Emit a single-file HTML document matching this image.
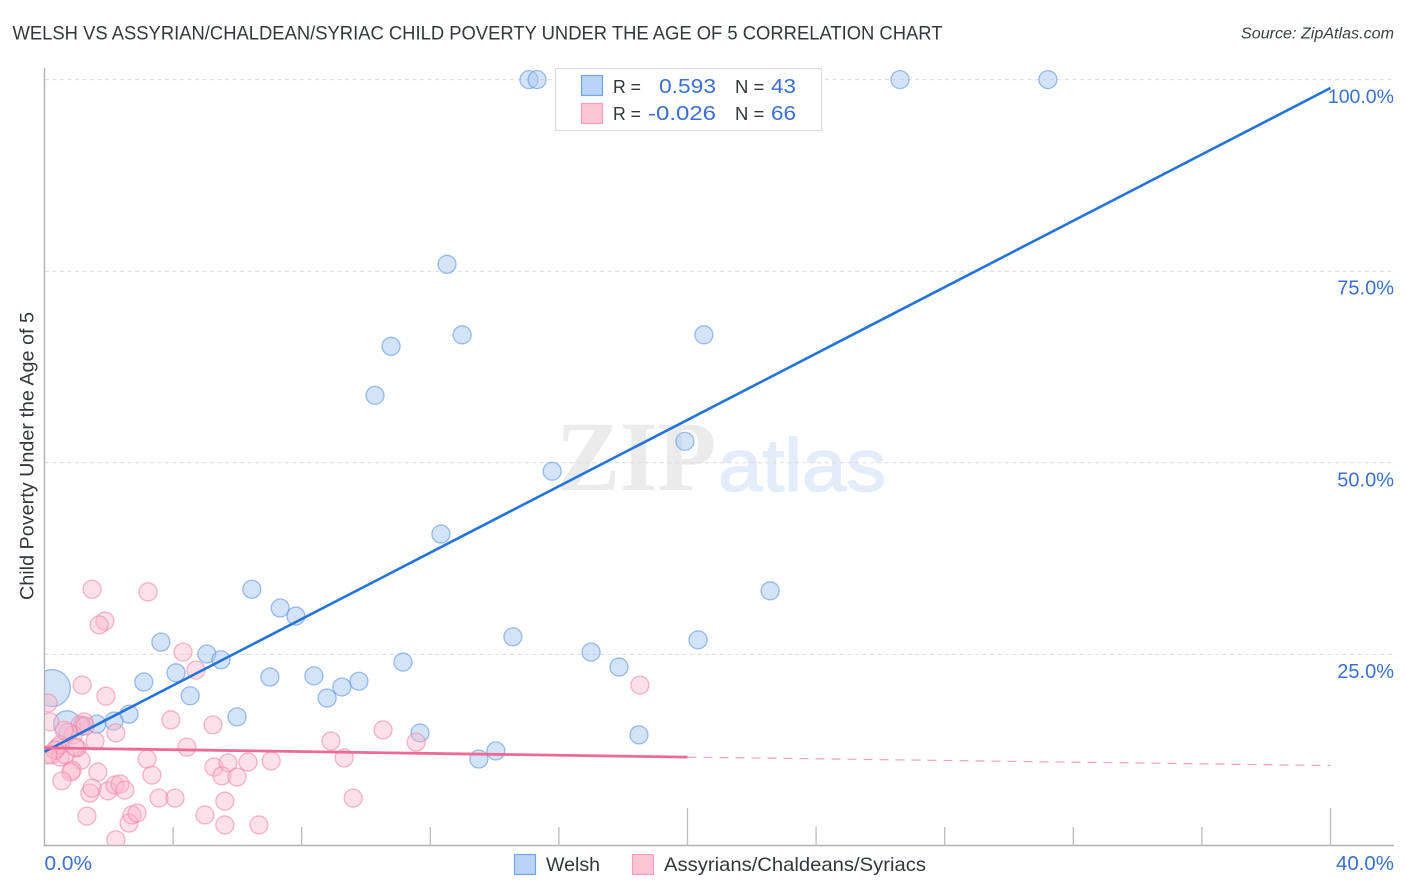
<!DOCTYPE html>
<html lang="en">
<head>
<meta charset="utf-8">
<title>Welsh vs Assyrian/Chaldean/Syriac Child Poverty Correlation Chart</title>
<style>
html,body{margin:0;padding:0;background:#fff;width:1406px;height:892px;overflow:hidden}
svg{display:block}
text{font-family:"Liberation Sans",sans-serif}
</style>
</head>
<body>
<svg id="chart" xmlns="http://www.w3.org/2000/svg" width="1406" height="892" viewBox="0 0 1406 892">
  <defs><clipPath id="plot-clip"><rect x="45" y="60" width="1349" height="785"/></clipPath></defs>
  <text x="12.5" y="39.5" font-size="19.5" fill="#33373d" textLength="930" lengthAdjust="spacingAndGlyphs">WELSH VS ASSYRIAN/CHALDEAN/SYRIAC CHILD POVERTY UNDER THE AGE OF 5 CORRELATION CHART</text>
  <text x="1241" y="38.5" font-size="15.5" font-style="italic" fill="#3a3f46" textLength="153" lengthAdjust="spacingAndGlyphs">Source: ZipAtlas.com</text>
  <text transform="translate(33.5 456) rotate(-90)" font-size="19.5" fill="#33373d" text-anchor="middle" textLength="288" lengthAdjust="spacingAndGlyphs">Child Poverty Under the Age of 5</text>
  <g>
    <text x="556" y="490" font-size="100" font-weight="700" fill="#ebebeb" textLength="160" lengthAdjust="spacingAndGlyphs" style="font-family:'Liberation Serif',serif">ZIP</text>
    <text x="718" y="491" font-size="74" fill="#e3ecf9" stroke="#e3ecf9" stroke-width="1.5" textLength="168" lengthAdjust="spacingAndGlyphs">atlas</text>
  </g>
  <g id="grid"></g>
  <g id="axes"></g>
  <g id="welsh-points" clip-path="url(#plot-clip)"></g>
  <g id="assyrian-points" clip-path="url(#plot-clip)"></g>
  <g id="trends"></g>
  <g id="labels"></g>

  <g>
    <rect x="555.5" y="68.5" width="266" height="62" fill="#fff" stroke="#dcdcdc" stroke-width="1.2"/>
    <rect x="581.5" y="75.5" width="21" height="20" fill="#b8d3f5" stroke="#74a3e3" stroke-width="1.2"/>
    <rect x="581.5" y="103.5" width="21" height="20" fill="#fcc6d7" stroke="#f29fb9" stroke-width="1.2"/>
    <text x="613" y="93" font-size="18.5" fill="#33373d" textLength="28" lengthAdjust="spacingAndGlyphs">R =</text>
    <text x="659" y="93" font-size="20.5" fill="#3a70d0" textLength="57" lengthAdjust="spacingAndGlyphs">0.593</text>
    <text x="735" y="93" font-size="18.5" fill="#33373d">N =</text>
    <text x="771" y="93" font-size="20.5" fill="#3a70d0" textLength="25" lengthAdjust="spacingAndGlyphs">43</text>
    <text x="613" y="120" font-size="18.5" fill="#33373d" textLength="28" lengthAdjust="spacingAndGlyphs">R =</text>
    <text x="648" y="120" font-size="20.5" fill="#3a70d0" textLength="68" lengthAdjust="spacingAndGlyphs">-0.026</text>
    <text x="735" y="120" font-size="18.5" fill="#33373d">N =</text>
    <text x="771" y="120" font-size="20.5" fill="#3a70d0" textLength="25" lengthAdjust="spacingAndGlyphs">66</text>
  </g>

  <g>
    <rect x="514.5" y="854.5" width="21" height="20" fill="#b8d3f5" stroke="#74a3e3" stroke-width="1.2"/>
    <text x="546" y="871" font-size="19.5" fill="#33373d" textLength="54" lengthAdjust="spacingAndGlyphs">Welsh</text>
    <rect x="632.5" y="854.5" width="21" height="20" fill="#fcc6d7" stroke="#f29fb9" stroke-width="1.2"/>
    <text x="664" y="871" font-size="19.5" fill="#33373d" textLength="262" lengthAdjust="spacingAndGlyphs">Assyrians/Chaldeans/Syriacs</text>
  </g>
</svg>
<script>
const welshX = [15.07,15.32,26.61,31.21,12.52,12.99,20.51,10.78,10.28,19.92,15.79,12.33,22.57,6.45,7.33,7.82,3.62,14.57,20.33,5.05,5.49,17.0,17.87,11.15,4.09,3.09,7.01,8.38,9.78,9.25,8.79,4.53,5.99,2.63,2.16,1.63,1.17,0.7,0.23,11.68,18.49,14.04,13.51];
const welshY = [100,100,100,100,75.9,66.7,66.7,65.2,58.8,52.8,48.9,40.7,33.3,33.5,31.05,30.0,26.6,27.3,26.9,25.05,24.3,25.3,23.35,24.0,22.6,21.4,22.05,22.2,21.5,20.75,19.3,19.6,16.85,17.2,16.3,15.9,15.65,15.9,20.6,14.75,14.5,12.4,11.35];
const welshWeight = [1,1,1,1,1,1,1,1,1,1,1,1,1,1,1,1,1,1,1,1,1,1,1,1,1,1,1,1,1,1,1,1,1,1,1,1,1,2.2,4.2,1,1,1,1];

const assyrianX = [1.48,3.22,1.88,1.70,4.31,4.71,1.17,1.91,0.11,0.17,1.23,1.1,2.22,3.93,5.24,10.53,8.91,11.56,4.43,9.32,3.19,1.14,1.57,0.89,0.73,1.01,0.39,0.23,0.48,0.64,0.86,0.82,1.66,3.34,0.54,1.41,1.48,1.98,2.19,2.35,2.5,3.56,4.06,5.27,5.71,6.33,7.05,5.52,5.99,5.61,9.6,1.32,4.99,5.61,6.67,2.63,2.72,2.88,2.22,18.52,0.48,0.95,0.33,0.61,1.26,0.11];
const assyrianY = [33.5,33.15,29.35,28.85,25.3,22.95,21.0,19.55,18.65,16.2,16.2,15.8,14.75,16.45,15.8,15.15,13.7,13.55,12.9,11.5,11.35,11.2,13.7,14.5,14.85,12.8,12.8,11.9,11.6,11.9,9.9,9.65,9.65,9.25,8.5,6.9,7.55,7.2,7.95,8.1,7.3,6.25,6.25,10.3,10.85,10.95,11.1,9.15,9.0,5.85,6.25,3.9,4.05,2.75,2.75,3.0,4.05,4.3,0.8,21.0,13.2,12.9,12.5,15.1,15.65,11.9];
const assyrianWeight = [1,1,1,1,1,1,1,1,1,1,1,1,1,1,1,1,1,1,1,1,1,1,1,1,1,1,1,1,1,1,1,1,1,1,1,1,1,1,1,1,1,1,1,1,1,1,1,1,1,1,1,1,1,1,1,1,1,1,1,1,1,1,1,1,1,1];

const welshTrendX = [0, 40];
const welshTrendY = [12.3, 98.9];
const assyrianTrendX = [0, 20, 40];
const assyrianTrendY = [12.8, 11.6, 10.5];

const yTickValues = [25, 50, 75, 100];
const yTickLabels = ["25.0%", "50.0%", "75.0%", "100.0%"];
const xTickValues = [0, 4, 8, 12, 16, 20, 24, 28, 32, 36, 40];
const xMajorTicks = [20, 40];
const xEndLabels = ["0.0%", "40.0%"];

const NS = "http://www.w3.org/2000/svg";
function xScale(v) { return 44.5 + v * 32.15; }
function yScale(v) { return 846 - v * 7.664; }
function radiusScale(w) { return 9 * Math.sqrt(w); }
function make(parent, tag, attrs) {
  const el = document.createElementNS(NS, tag);
  for (const k in attrs) el.setAttribute(k, attrs[k]);
  parent.appendChild(el);
  return el;
}

const grid = document.getElementById("grid");
yTickValues.forEach(function (v) {
  const ln = make(grid, "line", {x1: 45, x2: 1394, y1: yScale(v), y2: yScale(v), stroke: "#dcdcdc", "stroke-width": 1, "stroke-dasharray": "4 3.5"});
  
  
});

const axes = document.getElementById("axes");
const yAxis = make(axes, "line", {x1: 44.5, x2: 44.5, y1: 68, y2: 846.5, stroke: "#b0b0b0", "stroke-width": 1.4});


const xAxis = make(axes, "line", {x1: 44, x2: 1394, y1: 845.5, y2: 845.5, stroke: "#b0b0b0", "stroke-width": 1.4});


xTickValues.slice(1).forEach(function (v) {
  const major = xMajorTicks.indexOf(v) >= 0;
  const tk = make(axes, "line", {x1: xScale(v), x2: xScale(v), y1: major ? 808 : 827, y2: 846, stroke: "#bcbcbc", "stroke-width": 1.3});
  
  
});

function drawPoints(groupId, xs, ys, ws, fill, fillOpacity, stroke, name) {
  const g = document.getElementById(groupId);
  xs.forEach(function (x, i) {
    const c = make(g, "circle", {cx: xScale(x), cy: yScale(ys[i]), r: radiusScale(ws[i]), fill: fill, "fill-opacity": fillOpacity, stroke: stroke, "stroke-opacity": 0.6, "stroke-width": 1.3});
    
    
  });
}
drawPoints("welsh-points", welshX, welshY, welshWeight, "#a9c9f2", 0.5, "#5c93dd", "welsh-point");
drawPoints("assyrian-points", assyrianX, assyrianY, assyrianWeight, "#fbb6cb", 0.42, "#ee86a8", "assyrian-point");

const trends = document.getElementById("trends");
const welshLine = make(trends, "line", {x1: xScale(welshTrendX[0]), y1: yScale(welshTrendY[0]), x2: xScale(welshTrendX[1]), y2: yScale(welshTrendY[1]), stroke: "#2473d8", "stroke-width": 2.6});


const assyrianLine = make(trends, "line", {x1: xScale(assyrianTrendX[0]), y1: yScale(assyrianTrendY[0]), x2: xScale(assyrianTrendX[1]), y2: yScale(assyrianTrendY[1]), stroke: "#ec6a94", "stroke-width": 2.8});


const assyrianDash = make(trends, "line", {x1: xScale(assyrianTrendX[1]), y1: yScale(assyrianTrendY[1]), x2: xScale(assyrianTrendX[2]), y2: yScale(assyrianTrendY[2]), stroke: "#f0a0ba", "stroke-width": 1.2, "stroke-dasharray": "9 7"});



const labels = document.getElementById("labels");
yTickValues.forEach(function (v, i) {
  const t = make(labels, "text", {x: 1394, y: yScale(v) + 23.5, "font-size": i === 3 ? 19.5 : 20, fill: "#3a70d0", "text-anchor": "end"});
  t.textContent = yTickLabels[i];
  
  
});
const x0Label = make(labels, "text", {x: xScale(0), y: 870, "font-size": 20, fill: "#3a70d0", textLength: 47.5, lengthAdjust: "spacingAndGlyphs"});
x0Label.textContent = xEndLabels[0];


const x1Label = make(labels, "text", {x: 1336, y: 870, "font-size": 20, fill: "#3a70d0", textLength: 58, lengthAdjust: "spacingAndGlyphs"});
x1Label.textContent = xEndLabels[1];


</script>
</body>
</html>
